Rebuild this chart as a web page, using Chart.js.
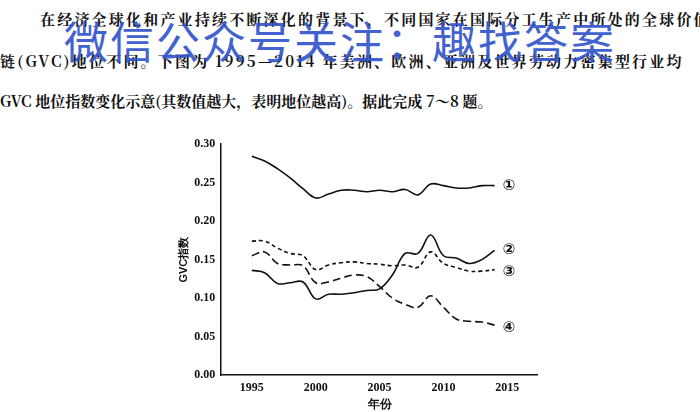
<!DOCTYPE html>
<html><head><meta charset="utf-8">
<script src="https://cdn.jsdelivr.net/npm/chart.js@4"></script>
<style>
body{margin:0;width:700px;height:412px;background:#fff;overflow:hidden;position:relative;font-family:"Noto Sans CJK SC",serif;}
.t{position:absolute;left:0;font-weight:bold;font-size:15px;color:#111;white-space:nowrap;font-family:"Noto Serif CJK SC","Noto Sans CJK SC",serif;}
#wm{position:absolute;left:64px;top:8px;font-size:44px;color:#3355cc;font-family:"Noto Sans CJK SC";letter-spacing:2px;opacity:.92;}
#box{position:absolute;left:175px;top:128px;width:363px;height:284px;}
</style></head><body>
<div class="t" style="top:8px;left:40px;letter-spacing:2.2px;">在经济全球化和产业持续不断深化的背景下，不同国家在国际分工生产中所处的全球价值</div>
<div class="t" style="top:50px;left:0;letter-spacing:2.2px;">链(GVC)地位不同。下图为 1995—2014 年美洲、欧洲、亚洲及世界劳动力密集型行业均</div>
<div class="t" style="top:90px;left:0;">GVC 地位指数变化示意(其数值越大，表明地位越高)。据此完成 7～8 题。</div>
<div id="wm">微信公众号关注：趣找答案</div>
<div id="box"><canvas id="c"></canvas></div>
<script>
const years = [1995,1996,1997,1998,1999,2000,2001,2002,2003,2004,2005,2006,2007,2008,2009,2010,2011,2012,2013,2014];
const s1 = [0.284,0.278,0.268,0.256,0.242,0.230,0.235,0.240,0.240,0.238,0.240,0.238,0.241,0.234,0.248,0.246,0.243,0.243,0.246,0.246];
const s2 = [0.136,0.133,0.119,0.120,0.121,0.099,0.105,0.105,0.107,0.110,0.112,0.130,0.158,0.158,0.182,0.155,0.152,0.145,0.150,0.162];
const s3 = [0.174,0.174,0.165,0.158,0.155,0.137,0.143,0.146,0.147,0.145,0.144,0.142,0.143,0.140,0.160,0.145,0.140,0.135,0.135,0.137];
const s4 = [0.155,0.160,0.145,0.143,0.142,0.120,0.121,0.126,0.130,0.128,0.115,0.100,0.092,0.088,0.103,0.088,0.073,0.070,0.069,0.065];
const labels = ['①','②','③','④'];
const xTicks = [1995,2000,2005,2010,2015];

const pts = arr => arr.map((v,i) => ({x: years[i], y: v}));
const mk = (arr, dash) => ({data: pts(arr), borderColor:'#111', borderWidth:1.6, borderDash:dash, pointRadius:0, tension:0.4, fill:false});

const endLabels = {
  id:'endLabels',
  afterDatasetsDraw(chart){
    const ctx = chart.ctx;
    ctx.save();
    ctx.font = 'bold 15px "DejaVu Sans"';
    ctx.fillStyle = '#111';
    ctx.textBaseline = 'middle';
    chart.data.datasets.forEach((ds,i) => {
      const last = ds.data[ds.data.length-1];
      const x = chart.scales.x.getPixelForValue(last.x) + 8;
      const y = chart.scales.y.getPixelForValue(last.y);
      ctx.fillText(labels[i], x, y + (i==2 ? 2 : i==3 ? 3 : 0));
    });
    ctx.restore();
  }
};

new Chart(document.getElementById('c'), {
  type:'line',
  data:{datasets:[mk(s1,[]), mk(s2,[]), mk(s3,[4,3]), mk(s4,[8,4])]},
  options:{
    responsive:true, maintainAspectRatio:false, animation:false,
    layout:{padding:{right:0,top:16}},
    plugins:{legend:{display:false}, tooltip:{enabled:false}},
    scales:{
      x:{type:'linear', min:1992.6, max:2017.4,
        afterBuildTicks: s => { s.ticks = xTicks.map(v => ({value:v})); },
        ticks:{color:'#111', callback:v => String(v), font:{size:12, weight:'bold', family:'Liberation Serif'}, padding:2},
        grid:{display:false, drawTicks:true, tickLength:4, color:'#111'},
        border:{color:'#111', width:1.5},
        title:{display:true, text:'年份', color:'#111', font:{size:12, weight:'bold'}, padding:0}},
      y:{min:0, max:0.30,
        ticks:{stepSize:0.05, color:'#111', callback:v => v.toFixed(2), font:{size:12, weight:'bold', family:'Liberation Serif'}, padding:2},
        grid:{display:false, drawTicks:true, tickLength:4, color:'#111'},
        border:{color:'#111', width:1.5},
        title:{display:true, text:'GVC指数', color:'#111', font:{size:11, weight:'bold'}, padding:2}}
    }
  },
  plugins:[endLabels]
});
</script>
</body></html>
